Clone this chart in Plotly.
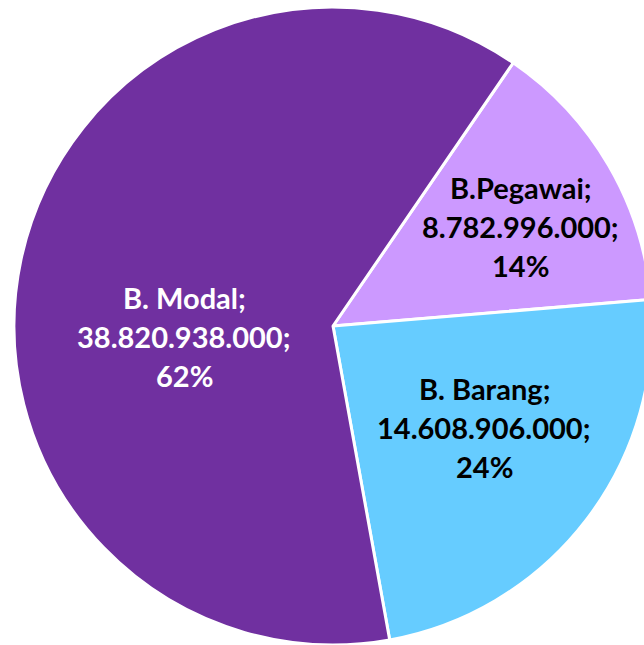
import math
import plotly.graph_objects as go

# Budget breakdown (Rupiah)
labels = ["B.Pegawai", "B. Barang", "B. Modal"]
values = [8782996000, 14608906000, 38820938000]
percent_labels = [14, 24, 62]

colors = ["#CC99FF", "#66CCFF", "#7030A0"]
text_colors = ["#000000", "#000000", "#FFFFFF"]
# label placement: (angle clockwise from 12 o'clock in degrees, fraction of radius)
label_polar = [(62.2, 0.666), (123.8, 0.57), (265.8, 0.468)]

W, H = 666, 645
R = 319
CX, CY = W / 2, H - R  # pie centre in pixels (from top-left)

fig = go.Figure(
    go.Pie(
        labels=labels,
        values=values,
        sort=False,
        direction="clockwise",
        rotation=34.4,
        marker=dict(colors=colors, line=dict(color="#FFFFFF", width=3)),
        textinfo="none",
        hoverinfo="label+value+percent",
        showlegend=False,
        domain=dict(x=[0, 1], y=[0, 2 * R / H]),
    )
)

line_gap = 39
for lab, val, pct, tc, (ang, frac) in zip(labels, values, percent_labels, text_colors, label_polar):
    lines = [f"{lab};", f"{val:,}".replace(",", ".") + ";", f"{pct}%"]
    a = math.radians(ang)
    px = CX + frac * R * math.sin(a)
    py = CY - frac * R * math.cos(a)
    for i, t in enumerate(lines):
        fig.add_annotation(
            x=px / W,
            y=1 - py / H,
            xref="paper",
            yref="paper",
            text=t,
            showarrow=False,
            xanchor="center",
            yanchor="middle",
            yshift=(1 - i) * line_gap,
            font=dict(family="Lato", size=29, color=tc, weight="bold"),
        )

fig.update_layout(
    width=W,
    height=H,
    margin=dict(l=0, r=0, t=0, b=0),
    paper_bgcolor="#FFFFFF",
    plot_bgcolor="#FFFFFF",
)

fig.write_html(
    "out.html",
    post_script=(
        "document.documentElement.style.overflow='hidden';"
        "document.body.style.overflow='hidden';"
        "document.body.style.margin='0';"
    ),
)
